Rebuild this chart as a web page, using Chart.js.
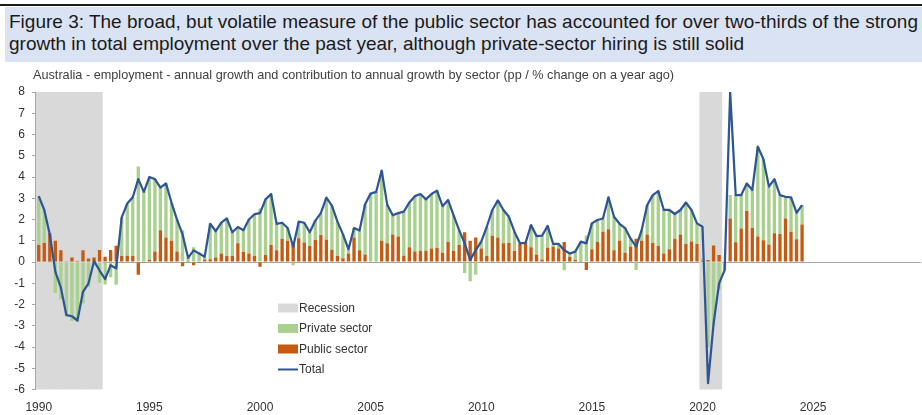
<!DOCTYPE html>
<html>
<head>
<meta charset="utf-8">
<script src="https://cdn.jsdelivr.net/npm/chart.js@4.4.1/dist/chart.umd.min.js"></script>
<style>
  html, body { margin: 0; padding: 0; background: #fff; }
  body { width: 922px; height: 415px; position: relative; overflow: hidden; font-family: "Liberation Sans", Arial, sans-serif; }
  #wrap { position: absolute; left: 0; top: 0; width: 922px; height: 415px; }
  #rule { position: absolute; left: 0; top: 4px; width: 922px; height: 2px; background: #1a1a1a; }
  #banner { position: absolute; left: 5px; top: 7px; width: 917px; height: 55px; box-sizing: border-box;
            padding: 3.7px 0 0 4px; background: #dae3f3; color: #1a1a1a; font-size: 19px; line-height: 22px;
            white-space: nowrap; overflow: hidden; }
  #subtitle { position: absolute; left: 33px; top: 68px; font-size: 12.7px; line-height: 15px; color: #404040; white-space: nowrap; }
</style>
</head>
<body>
<div id="wrap"><canvas id="chart"></canvas></div>
<div id="rule"></div>
<div id="banner">Figure 3: The broad, but volatile measure of the public sector has accounted for over two-thirds of the strong<br>growth in total employment over the past year, although private-sector hiring is still solid</div>
<div id="subtitle">Australia - employment - annual growth and contribution to annual growth by sector (pp / % change on a year ago)</div>

<script>
// quarterly categories, 1990Q1 .. 2029Q4 (axis runs to 2030)
const quarters = [];
for (let y = 1990; y < 2030; y++) {
  for (let q = 1; q <= 4; q++) quarters.push(y + "Q" + q);
}
const yearTicks = ["1990", "1995", "2000", "2005", "2010", "2015", "2020", "2025"];
const yMin = -6, yMax = 8;

// recession periods (shaded)
const recessions = [["1990Q1", "1992Q4"], ["2020Q1", "2020Q4"]];

// total employment, % y/y (1990Q1 .. 2024Q3)
const total = [
  3.1, 2.45, 1.3, -0.45, -1.2, -2.5, -2.55, -2.75, -1.4, -1.0,
  0.05, -0.4, -0.8, -0.15, -0.3, 2.1, 2.75, 3.05, 3.9, 3.3,
  4.0, 3.9, 3.5, 3.7, 2.8, 2.0, 1.3, 0.2, 0.55, 0.4,
  0.25, 1.8, 1.45, 1.85, 2.05, 1.4, 1.65, 1.5, 2.0, 2.25,
  2.3, 2.95, 3.2, 1.8, 1.85, 1.6, 0.72, 1.9, 1.85, 1.4,
  1.95, 2.3, 3.03, 2.65, 1.9, 1.3, 0.6, 1.6, 1.48, 2.72,
  3.22, 3.3, 4.3, 2.7, 2.2, 2.3, 2.37, 2.8, 3.1, 3.2,
  2.95, 3.2, 3.36, 2.63, 2.92, 2.2, 1.5, 0.88, 0.1, 0.56,
  0.96, 1.66, 2.45, 2.9, 2.45, 2.13, 1.43, 0.88, 0.9, 1.74,
  1.22, 1.24, 1.7, 0.85, 0.85, 0.56, 0.4, 0.49, 0.96, 0.88,
  1.82, 1.98, 2.05, 3.05, 2.13, 1.8, 1.6, 1.1, 0.73, 1.5,
  2.68, 3.15, 3.34, 2.45, 2.45, 2.26, 2.45, 2.8, 2.45, 1.82,
  1.66, -5.7, -2.9, -1.0, -0.38, 8.0, 3.15, 3.15, 3.7, 3.39,
  5.43, 4.85, 3.55, 3.9, 3.15, 3.07, 3.04, 2.32, 2.68
];

// contribution of public sector, pp
const publicSector = [
  0.8, 0.9, 1.35, 1.0, 0.55, 0.02, 0.22, 0.05, 0.55, 0.17,
  0.22, 0.57, 0.25, 0.57, 0.77, 0.28, 0.3, 0.3, -0.6, -0.05,
  0.1, 0.5, 1.5, 1.15, 1.0, 0.5, -0.2, 0.05, -0.15, -0.05,
  0.12, 0.13, 0.22, 0.4, 0.28, 0.28, 0.88, 0.49, 0.4, 0.28,
  -0.22, 0.33, 0.8, 0.56, 1.1, 1.0, 0.87, 1.12, 0.92, 0.76,
  1.04, 1.27, 1.05, 0.58, 0.28, 0.18, 0.4, 1.16, 0.56, 0.36,
  -0.03, 0.04, 1.0, 0.88, 1.3, 1.2, 0.3, 0.7, 0.5, 0.53,
  0.53, 0.64, 0.67, 0.44, 0.94, 0.53, 0.8, 1.4, 1.0, 1.16,
  0.64, 0.28, 1.24, 1.16, 0.88, 0.9, 0.52, 0.85, 0.95, 0.7,
  0.36, 0.12, 0.67, 0.72, 0.64, 0.94, 0.25, 0.1, 0.02, -0.37,
  0.6, 0.96, 1.43, 1.54, 0.56, 1.0, 0.44, 0.72, 1.1, 1.0,
  1.3, 0.9, 0.75, 0.4, 0.6, 1.1, 1.3, 0.85, 0.97, 0.85,
  0.05, 0.1, 0.78, 0.33, 0.0, 2.05, 0.93, 1.58, 2.4, 1.6,
  1.2, 1.03, 0.83, 1.35, 1.32, 2.05, 1.43, 1.07, 1.77
];

// contribution of private sector, pp
const privateSector = [
  2.3, 1.55, -0.05, -1.45, -1.75, -2.52, -2.77, -2.8, -1.95, -1.17,
  -0.17, -0.97, -1.05, -0.72, -1.07, 1.82, 2.45, 2.75, 4.5, 3.35,
  3.9, 3.4, 2.0, 2.55, 1.8, 1.5, 1.5, 0.15, 0.7, 0.45,
  0.13, 1.67, 1.23, 1.45, 1.77, 1.12, 0.77, 1.01, 1.6, 1.97,
  2.52, 2.62, 2.4, 1.24, 0.75, 0.6, -0.15, 0.78, 0.93, 0.64,
  0.91, 1.03, 1.98, 2.07, 1.62, 1.12, 0.2, 0.44, 0.92, 2.36,
  3.25, 3.26, 3.3, 1.82, 0.9, 1.1, 2.07, 2.1, 2.6, 2.67,
  2.42, 2.56, 2.69, 2.19, 1.98, 1.67, 0.7, -0.52, -0.9, -0.6,
  0.32, 1.38, 1.21, 1.74, 1.57, 1.23, 0.91, 0.03, -0.05, 1.04,
  0.86, 1.12, 1.03, 0.13, 0.21, -0.38, 0.15, 0.39, 0.94, 1.25,
  1.22, 1.02, 0.62, 1.51, 1.57, 0.8, 1.16, 0.38, -0.37, 0.5,
  1.38, 2.25, 2.59, 2.05, 1.85, 1.16, 1.15, 1.95, 1.48, 0.97,
  0.1, -4.0, -3.0, -1.3, -0.38, 1.1, 2.22, 1.57, 1.3, 1.79,
  4.23, 3.82, 2.72, 2.55, 1.83, 1.02, 1.61, 1.25, 0.91
];

const recessionData = quarters.map(function (q) {
  const inside = recessions.some(function (r) { return q >= r[0] && q <= r[1]; });
  return inside ? [yMin, yMax] : null;
});

const FONT = '"Liberation Sans", Arial, sans-serif';
Chart.defaults.font.family = FONT;
Chart.defaults.font.size = 12;
Chart.defaults.color = "#404040";

// legend drawn inside the plot area
const insideLegend = {
  id: "insideLegend",
  afterDraw(chart) {
    const ctx = chart.ctx;
    const x0 = 278, y0 = 308, step = 20.5;
    ctx.save();
    ctx.font = "12px " + FONT;
    ctx.textBaseline = "middle";
    chart.data.datasets.forEach(function (ds, i) {
      const y = y0 + i * step;
      if (ds.type === "line") {
        ctx.strokeStyle = ds.borderColor;
        ctx.lineWidth = 2;
        ctx.beginPath();
        ctx.moveTo(x0, y);
        ctx.lineTo(x0 + 20, y);
        ctx.stroke();
      } else {
        ctx.fillStyle = ds.backgroundColor;
        ctx.fillRect(x0, y - 4.5, 20, 9);
      }
      ctx.fillStyle = "#333333";
      ctx.fillText(ds.label, x0 + 21, y + 0.5);
    });
    ctx.restore();
  }
};

new Chart("chart", {
  data: {
    labels: quarters,
    datasets: [
      {
        type: "bar",
        label: "Recession",
        data: recessionData,
        backgroundColor: "#d9d9d9",
        stack: "rec",
        grouped: false,
        barPercentage: 1,
        categoryPercentage: 1,
        order: 3
      },
      {
        type: "bar",
        label: "Private sector",
        data: privateSector,
        backgroundColor: "#a9d18e",
        stack: "sector",
        barPercentage: 0.6,
        categoryPercentage: 1,
        order: 2
      },
      {
        type: "bar",
        label: "Public sector",
        data: publicSector,
        backgroundColor: "#c55a11",
        stack: "sector",
        barPercentage: 0.6,
        categoryPercentage: 1,
        order: 1
      },
      {
        type: "line",
        label: "Total",
        data: total,
        borderColor: "#2f5597",
        backgroundColor: "#2f5597",
        borderWidth: 2.25,
        borderJoinStyle: "round",
        pointRadius: 0,
        tension: 0,
        stack: "total",
        order: 0
      }
    ]
  },
  options: {
    responsive: true,
    maintainAspectRatio: false,
    animation: false,
    layout: { padding: { top: 92, left: 7.3, right: 1, bottom: 0 } },
    plugins: {
      legend: { display: false },
      tooltip: { enabled: false }
    },
    scales: {
      x: {
        grid: { display: false, drawTicks: true, tickLength: 11 },
        border: { display: false },
        ticks: {
          autoSkip: false,
          maxRotation: 0,
          minRotation: 0,
          padding: 0,
          color: "#333333",
          callback: function (value) {
            const lab = this.getLabelForValue(value);
            const yr = lab.slice(0, 4);
            return lab.endsWith("Q1") && yearTicks.includes(yr) ? yr : "";
          }
        }
      },
      y: {
        stacked: true,
        min: yMin,
        max: yMax,
        ticks: { stepSize: 1, padding: 7, color: "#333333" },
        grid: {
          color: function (c) { return c.tick && c.tick.value === 0 ? "#a6a6a6" : "rgba(0,0,0,0)"; },
          tickColor: "#a6a6a6",
          tickLength: 4,
          lineWidth: 1
        },
        border: { display: true, color: "#a6a6a6", width: 1 }
      }
    }
  },
  plugins: [insideLegend]
});
</script>
</body>
</html>
